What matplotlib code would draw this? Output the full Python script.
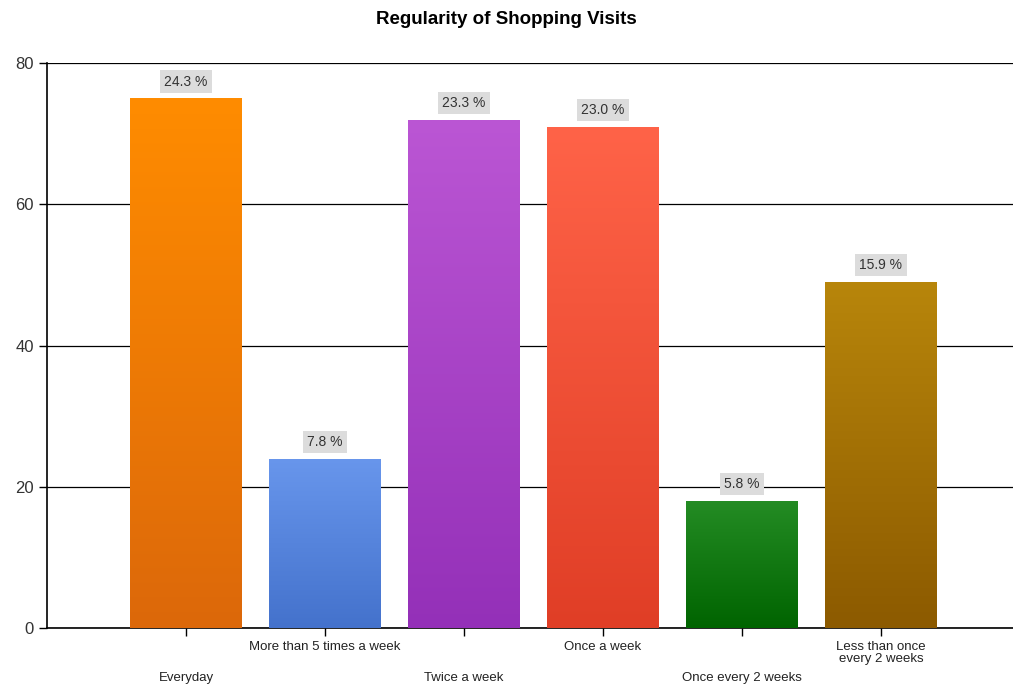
import matplotlib.pyplot as plt
import numpy as np
from matplotlib.colors import LinearSegmentedColormap

categories = ["Everyday", "More than 5 times a week", "Twice a week",
              "Once a week", "Once every 2 weeks", "Less than once\nevery 2 weeks"]
counts = [75, 24, 72, 71, 18, 49]
shares = [24.3, 7.8, 23.3, 23.0, 5.8, 15.9]
top_colors = ["#ff8c00", "#6896ec", "#bb56d4", "#ff6348", "#248c24", "#b8860b"]
bottom_colors = ["#dc680a", "#4472cc", "#9430b8", "#e03e26", "#006400", "#8c5a00"]

plt.rcParams["font.family"] = ["Liberation Sans", "DejaVu Sans"]

fig = plt.figure(figsize=(10.13, 6.88), dpi=100)
ax = fig.add_axes([0.0464, 0.0872, 0.9536, 0.8212])

x = np.arange(len(categories))
bars = ax.bar(x, counts, width=0.8, color="none", zorder=3)

# vertical gradient fill clipped to each bar
grad = np.linspace(0, 1, 256).reshape(-1, 1)
for bar, c_top, c_bot in zip(bars, top_colors, bottom_colors):
    cmap = LinearSegmentedColormap.from_list("g", [c_bot, c_top])
    x0, y0 = bar.get_x(), bar.get_y()
    im = ax.imshow(grad, cmap=cmap, aspect="auto", origin="lower",
                   extent=(x0, x0 + bar.get_width(), y0, y0 + bar.get_height()),
                   zorder=3)
    im.set_clip_path(bar)

for xi, h, s in zip(x, counts, shares):
    ax.annotate(f"{s:.1f} %", (xi, h), xytext=(0, 12), textcoords="offset points",
                ha="center", va="center", fontsize=10, color="#333333",
                bbox=dict(boxstyle="square,pad=0.3", fc="#dcdcdc", ec="none"),
                zorder=4)

ax.set_xlim(-1, 5.95)
ax.set_ylim(0, 80)
ax.set_yticks([0, 20, 40, 60, 80])
ax.yaxis.grid(True, color="black", linewidth=0.9, zorder=0)
ax.set_axisbelow(True)

ax.set_xticks(x)
ax.set_xticklabels([""] * len(categories))
# staggered category labels: odd ones close to the axis, even ones lower
for i, (xi, lab) in enumerate(zip(x, categories)):
    off = -9 if i % 2 == 1 else -32
    ax.annotate(lab, (xi, 0), xytext=(0, off), textcoords="offset points",
                ha="center", va="top", fontsize=9.5, color="#222222",
                linespacing=1.0, annotation_clip=False)

ax.tick_params(axis="both", direction="out", length=6, width=1, colors="black",
               labelsize=12)
ax.tick_params(axis="y", labelcolor="#333333")
for side in ["top", "right"]:
    ax.spines[side].set_visible(False)
ax.spines["left"].set_linewidth(1.2)
ax.spines["bottom"].set_linewidth(1.2)

fig.text(0.5, 0.972, "Regularity of Shopping Visits", ha="center", va="center",
         fontsize=13.5, fontweight="bold")

fig.savefig("out.png", dpi=100)
